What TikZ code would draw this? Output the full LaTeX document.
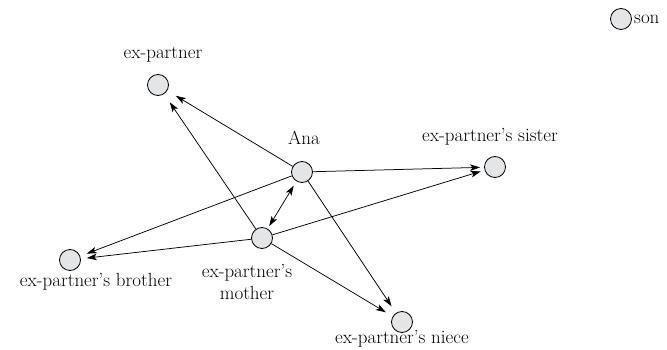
\documentclass[tikz,border=0pt]{standalone}
\usetikzlibrary{arrows.meta}
\definecolor{nodegray}{RGB}{228,229,231}
\begin{document}
\begin{tikzpicture}[x=1pt,y=-1pt,
  person/.style={circle,draw=black,line width=0.8pt,fill=nodegray,minimum size=21pt,inner sep=0pt},
  plabel/.style={font=\fontsize{19}{22}\selectfont,inner sep=0pt,anchor=base},
  reltip/.tip={Stealth[length=10pt,width=6.5pt,inset=2.5pt]},
  link/.style={line width=0.75pt,-reltip},
]
\useasboundingbox (0,0) rectangle (667,350);

% people
\node[person] (son) at (621,19) {};
\node[plabel,anchor=base west] (sonlbl) at (634,24) {son};
\node[person] (expartner) at (158,85) {};
\node[plabel] (expartnerlbl) at (163,59) {ex-partner};
\node[person] (ana) at (302,172) {};
\node[plabel] (analbl) at (304,145) {Ana};
\node[person] (sister) at (495,167) {};
\node[plabel] (sisterlbl) at (490,142) {ex-partner's sister};
\node[person] (mother) at (262,238) {};
\node[plabel,align=center,anchor=north] (motherlbl) at (247,264) {ex-partner's\\mother};
\node[person] (brother) at (70,260) {};
\node[plabel] (brotherlbl) at (96,286) {ex-partner's brother};
\node[person] (niece) at (402,322) {};
\node[plabel] (niecelbl) at (402,343) {ex-partner's niece};

% relations
\draw[link,shorten >=10pt] (ana) -- (expartner);
\draw[link,shorten >=10pt] (mother) -- (expartner);
\draw[link,shorten >=4pt] (ana) -- (sister);
\draw[link,shorten >=4pt] (mother) -- (sister);
\draw[link,shorten >=7pt] (ana) -- (brother);
\draw[link,shorten >=6pt] (mother) -- (brother);
\draw[link,shorten >=8pt] (ana) -- (niece);
\draw[link,shorten >=8pt] (mother) -- (niece);
\draw[line width=0.75pt,reltip-reltip,shorten >=5pt,shorten <=3pt] (mother) -- (ana);
\end{tikzpicture}
\end{document}
